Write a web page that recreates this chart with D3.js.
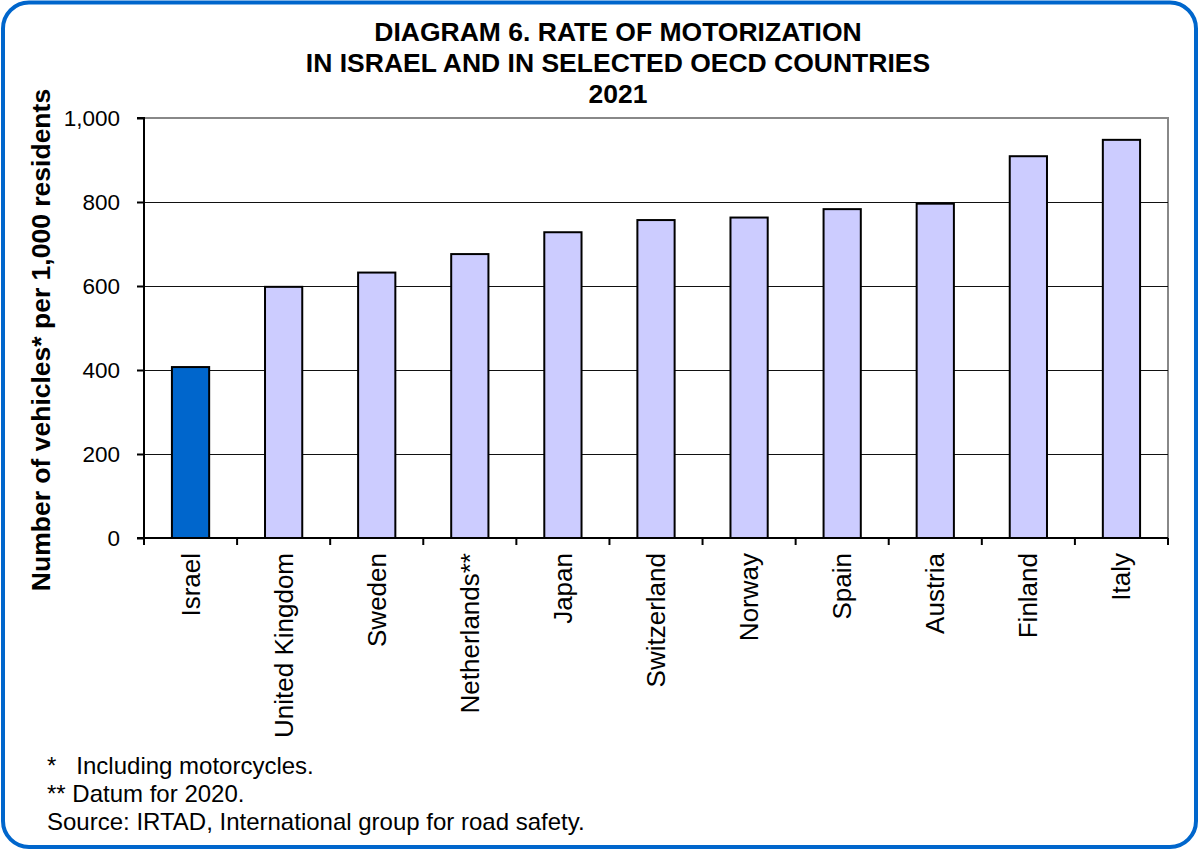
<!DOCTYPE html>
<html>
<head>
<meta charset="utf-8">
<script src="https://cdn.jsdelivr.net/npm/d3@7"></script>
<style>
  body { margin: 0; background: #fff; }
  svg text { font-family: Arial, "Liberation Sans", sans-serif; }
</style>
</head>
<body>
<div id="chart"></div>
<script>
// countries, left to right
const countries = ['Israel', 'United Kingdom', 'Sweden', 'Netherlands**', 'Japan',
  'Switzerland', 'Norway', 'Spain', 'Austria', 'Finland', 'Italy'];
// vehicles per 1,000 residents, 2021
const rates = [407, 598, 632, 676, 728, 757, 763, 783, 796, 909, 948];
const yTicks = [0, 200, 400, 600, 800, 1000];
const titleLines = ['DIAGRAM 6. RATE OF MOTORIZATION', 'IN ISRAEL AND IN SELECTED OECD COUNTRIES', '2021'];
const notes = ['*   Including motorcycles.', '** Datum for 2020.', 'Source: IRTAD, International group for road safety.'];

const width = 1199, height = 850;
const plot = { left: 144, right: 1168, top: 118, bottom: 538 };

const svg = d3.select('#chart').append('svg')
    .attr('width', width)
    .attr('height', height);

// rounded blue frame
svg.append('rect')
    .attr('x', 3).attr('y', 2.5)
    .attr('width', width - 6).attr('height', height - 5.5)
    .attr('rx', 26).attr('ry', 26)
    .attr('fill', '#fff')
    .attr('stroke', '#0066cc')
    .attr('stroke-width', 4);

// title
svg.append('g').selectAll('text')
    .data(titleLines)
    .enter().append('text')
    .attr('x', 618)
    .attr('y', (d, i) => 41 + i * 31)
    .attr('text-anchor', 'middle')
    .attr('font-size', '26.5px')
    .attr('font-weight', 'bold')
    .text(d => d);

const x = d3.scaleBand()
    .domain(countries)
    .range([plot.left, plot.right])
    .paddingInner(0.6)
    .paddingOuter(0.3);

const y = d3.scaleLinear()
    .domain([0, 1000])
    .range([plot.bottom, plot.top]);

// plot border (top / right in gray)
svg.append('path')
    .attr('d', `M${plot.left},${plot.top}H${plot.right}V${plot.bottom}`)
    .attr('fill', 'none')
    .attr('stroke', '#888')
    .attr('stroke-width', 2);

// gridlines
svg.append('g').selectAll('line')
    .data(yTicks.filter(d => d > 0 && d < 1000))
    .enter().append('line')
    .attr('x1', plot.left).attr('x2', plot.right)
    .attr('y1', d => y(d) + 0.5).attr('y2', d => y(d) + 0.5)
    .attr('stroke', '#111')
    .attr('stroke-width', 1);

// bars
svg.append('g').selectAll('rect')
    .data(rates)
    .enter().append('rect')
    .attr('x', (d, i) => x(countries[i]))
    .attr('y', d => y(d))
    .attr('width', x.bandwidth())
    .attr('height', d => y(0) - y(d))
    .attr('fill', (d, i) => i === 0 ? '#0066cc' : '#ccccff')
    .attr('stroke', '#000')
    .attr('stroke-width', 2);

// y axis
const yAxis = svg.append('g')
    .attr('transform', `translate(${plot.left},0)`)
    .call(d3.axisLeft(y).tickValues(yTicks).tickSize(7).tickPadding(17)
      .tickFormat(d3.format(',')));
yAxis.selectAll('text').attr('font-size', '22.5px').attr('fill', '#000')
    .style('font-family', 'Arial, "Liberation Sans", sans-serif');
yAxis.selectAll('line, path').attr('stroke', '#000').attr('stroke-width', 2);
yAxis.select('.domain').attr('d', `M-7,${plot.top}H0V${plot.bottom}H-7`);

// x axis: ticks between categories
const step = x.step();
const xAxis = svg.append('g')
    .attr('transform', `translate(0,${plot.bottom})`);
xAxis.append('line')
    .attr('x1', plot.left).attr('x2', plot.right)
    .attr('stroke', '#000').attr('stroke-width', 2);
xAxis.selectAll('.tick')
    .data(d3.range(countries.length + 1))
    .enter().append('line')
    .attr('x1', i => plot.left + i * step).attr('x2', i => plot.left + i * step)
    .attr('y1', 0).attr('y2', 7)
    .attr('stroke', '#000').attr('stroke-width', 2);
xAxis.selectAll('.label')
    .data(countries)
    .enter().append('text')
    .attr('transform', d => `translate(${x(d) + x.bandwidth() / 2 + 9},15) rotate(-90)`)
    .attr('text-anchor', 'end')
    .attr('font-size', '26px')
    .text(d => d);

// y title
svg.append('text')
    .attr('transform', 'translate(50,340) rotate(-90)')
    .attr('text-anchor', 'middle')
    .attr('font-size', '26.5px')
    .attr('font-weight', 'bold')
    .text('Number of vehicles* per 1,000 residents');

// footnotes
svg.append('g').selectAll('text')
    .data(notes)
    .enter().append('text')
    .attr('x', 47)
    .attr('y', (d, i) => 774 + i * 28)
    .attr('font-size', '24px')
    .attr('xml:space', 'preserve')
    .style('white-space', 'pre')
    .text(d => d);
</script>
</body>
</html>
